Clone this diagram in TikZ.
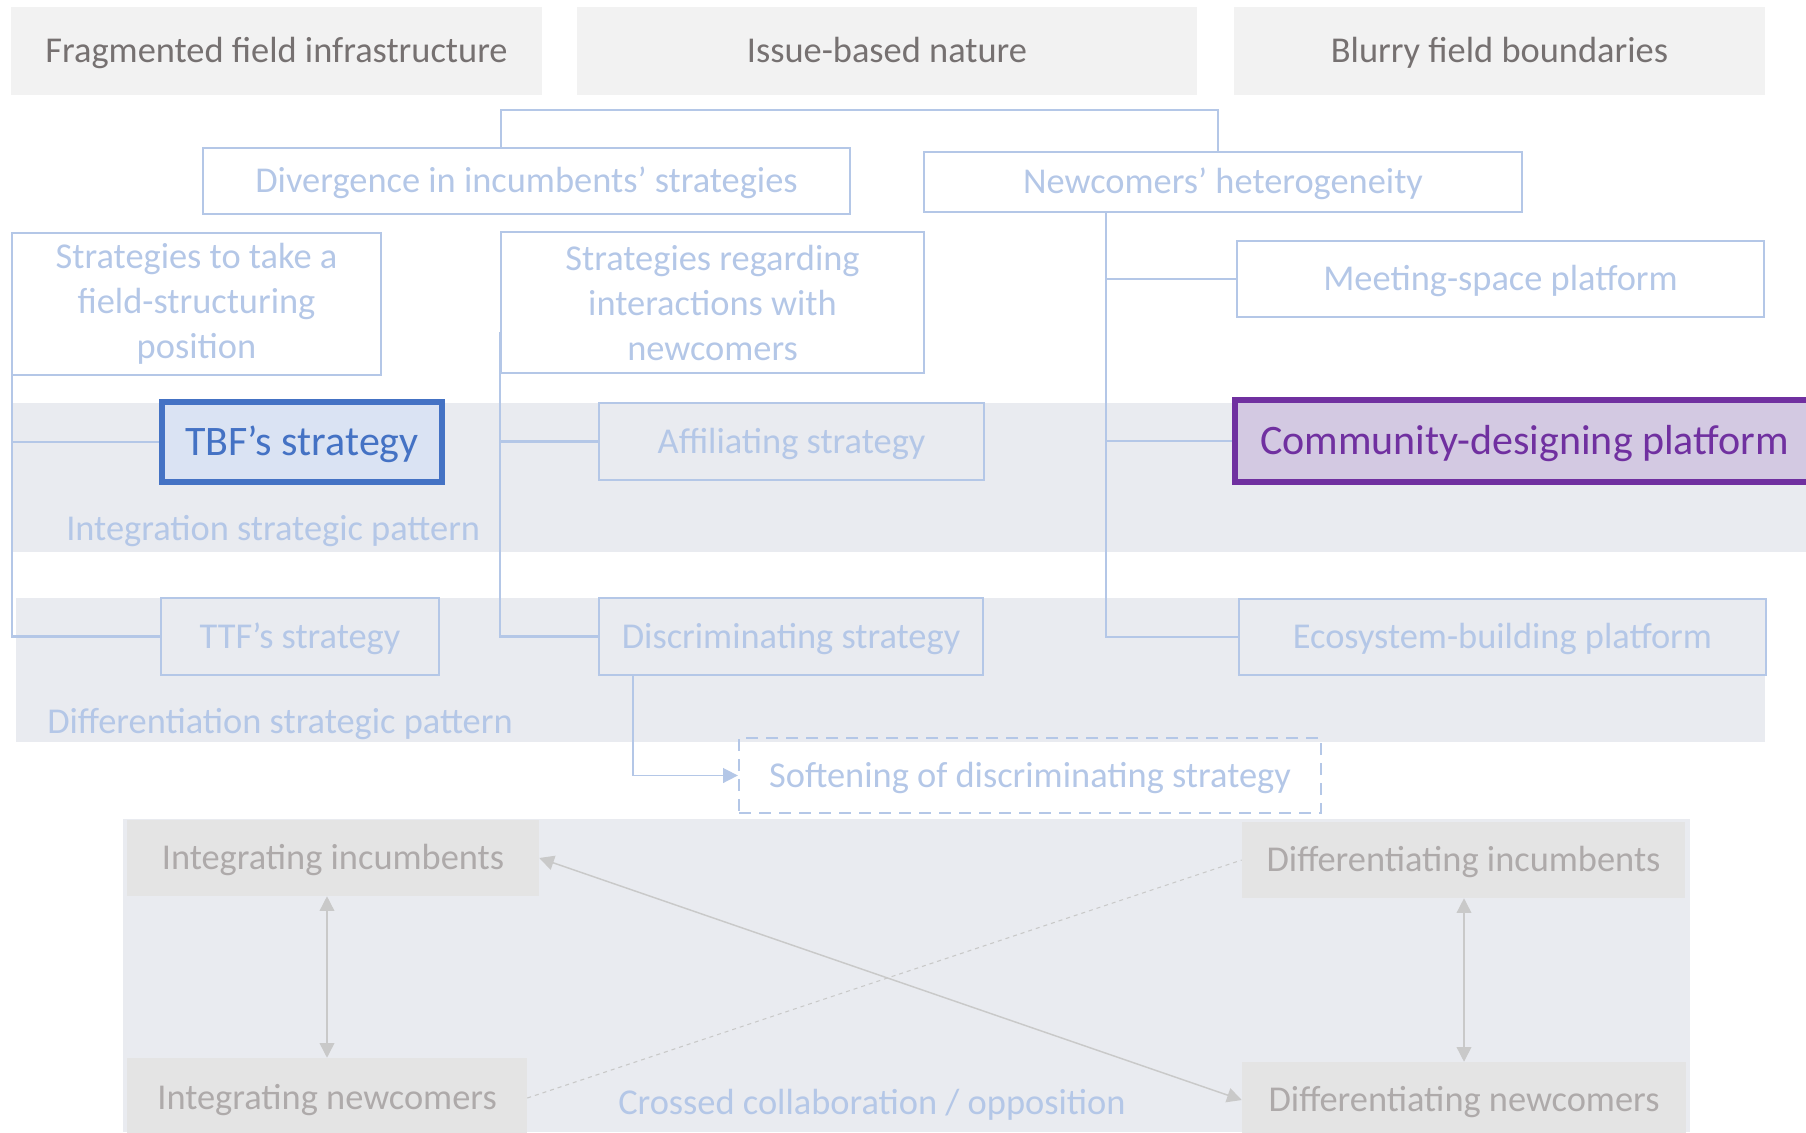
\documentclass[tikz,border=0pt]{standalone}
\usepackage{fontspec}
\setmainfont{Carlito}
\usetikzlibrary{arrows.meta}
\definecolor{lb}{HTML}{B4C7E7}
\definecolor{topfill}{HTML}{F2F2F2}
\definecolor{toptext}{HTML}{767171}
\definecolor{bandc}{HTML}{E9EBF0}
\definecolor{tbfc}{HTML}{4472C4}
\definecolor{tbff}{HTML}{DAE3F3}
\definecolor{comc}{HTML}{7030A0}
\definecolor{comf}{HTML}{D3C9E2}
\definecolor{botf}{HTML}{E4E4E4}
\definecolor{bott}{HTML}{AEAAAA}
\definecolor{arrc}{HTML}{C9C9C9}
\begin{document}
\begin{tikzpicture}[x=0.75pt,y=-0.75pt,
  every node/.style={font=\fontsize{27.3}{33.75}\selectfont, inner sep=0pt, align=center},
  sz/.style 2 args={minimum width=#1*0.75pt, minimum height=#2*0.75pt},
  oneline/.style={text height=20.4pt, text depth=2.9pt},
  topbox/.style={oneline, fill=topfill, text=toptext},
  lbbox/.style={oneline, draw=lb, line width=1.7pt, text=lb},
  multibox/.style={draw=lb, line width=1.7pt, text=lb},
  bigbox/.style={line width=3.8pt, font=\fontsize{31.5}{38}\selectfont, text height=23.6pt, text depth=3.3pt},
  softbox/.style={oneline, draw=lb, line width=1.7pt, text=lb, dash pattern=on 9pt off 6pt},
  botbox/.style={oneline, fill=botf, text=bott},
  bandlabel/.style={text=lb, anchor=base west},
  lbline/.style={draw=lb, line width=1.6pt},
  lbarrow/.style={draw=lb, line width=1.2pt, -{Triangle[length=11pt,width=11pt,fill=lb]}},
  grayarrow/.style={draw=arrc, line width=1.1pt, {Triangle[length=11pt,width=11pt,fill=arrc]}-{Triangle[length=11pt,width=11pt,fill=arrc]}},
  graydash/.style={draw=arrc, line width=0.8pt, dash pattern=on 3pt off 3pt}
]
\useasboundingbox (0,0) rectangle (1806,1132);
\clip (0,0) rectangle (1806,1132);

% background bands
\fill[bandc] (12,403) rectangle (1806,552);
\fill[bandc] (16,598) rectangle (1765,742);
\fill[bandc] (123,819) rectangle (1690,1132);

% top boxes
\node[topbox, sz={531}{88}] (frag) at (276.5,51) {Fragmented field infrastructure};
\node[topbox, sz={620}{88}] (issue) at (887,51) {Issue-based nature};
\node[topbox, sz={531}{88}] (blur) at (1499.5,51) {Blurry field boundaries};

% level 2
\node[lbbox, sz={647}{66}] (div) at (526.5,181) {Divergence in incumbents’ strategies};
\node[lbbox, sz={598}{60}] (new) at (1223,182) {Newcomers’ heterogeneity};

% level 3
\node[multibox, sz={369}{142}] (s1) at (196.5,304) {Strategies to take a\\field-structuring\\position};
\node[multibox, sz={423}{141}] (s2) at (712.5,302.5) {Strategies regarding\\interactions with\\newcomers};
\node[lbbox, sz={527}{76}] (meet) at (1500.5,279) {Meeting-space platform};

% integration row
\node[lbbox, bigbox, draw=tbfc, fill=tbff, text=tbfc, sz={280}{80}] (tbf) at (302,442) {TBF’s strategy};
\node[lbbox, sz={385}{77}] (aff) at (791.5,441.5) {Affiliating strategy};
\node[lbbox, bigbox, draw=comc, fill=comf, text=comc, sz={579}{82}] (com) at (1524.5,441) {Community-designing platform};
\node[bandlabel] (lint) at (66,540) {Integration strategic pattern};

% differentiation row
\node[lbbox, sz={278}{77}] (ttf) at (300,636.5) {TTF’s strategy};
\node[lbbox, sz={384}{77}] (dis) at (791,636.5) {Discriminating strategy};
\node[lbbox, sz={527}{76}] (eco) at (1502.5,637) {Ecosystem-building platform};
\node[bandlabel] (ldiff) at (47,733) {Differentiation strategic pattern};

% softening
\node[softbox, sz={582}{75}] (soft) at (1030,775.5) {Softening of discriminating strategy};

% bottom quadrant
\node[botbox, sz={412}{76}] (ii) at (333,858) {Integrating incumbents};
\node[botbox, sz={400}{80}] (inw) at (327,1098) {Integrating newcomers};
\node[botbox, sz={443}{76}] (di) at (1463.5,860) {Differentiating incumbents};
\node[botbox, sz={444}{76}] (dn) at (1464,1100) {Differentiating newcomers};
\node[bandlabel] (lcross) at (618,1114) {Crossed collaboration / opposition};

% connectors
\coordinate (b1) at (501,110);
\coordinate (b2) at (1218,110);
\draw[lbline] (div.north -| b1) -- (b1) -- (b2) -- (new.north -| b2);

\coordinate (t1) at (12,330);
\draw[lbline] (t1) |- (tbf.west);
\draw[lbline] (t1) |- (ttf.west);

\coordinate (t2) at (500,332);
\draw[lbline] (t2) |- (aff.west);
\draw[lbline] (t2) |- (dis.west);

\coordinate (t3) at (1106,0);
\draw[lbline] (new.south -| t3) |- (meet.west);
\draw[lbline] (new.south -| t3) |- (com.west);
\draw[lbline] (new.south -| t3) |- (eco.west);

\coordinate (d1) at (633,0);
\draw[lbarrow] (dis.south -| d1) |- (soft.west);

\coordinate (v1) at (327,0);
\coordinate (v2) at (1464,0);
\draw[grayarrow] (ii.south -| v1) -- (inw.north -| v1);
\draw[grayarrow] (di.south -| v2) -- (dn.north -| v2);
\draw[grayarrow] (ii.east) -- (dn.west);
\draw[graydash] (inw.east) -- (di.west);
\end{tikzpicture}
\end{document}
